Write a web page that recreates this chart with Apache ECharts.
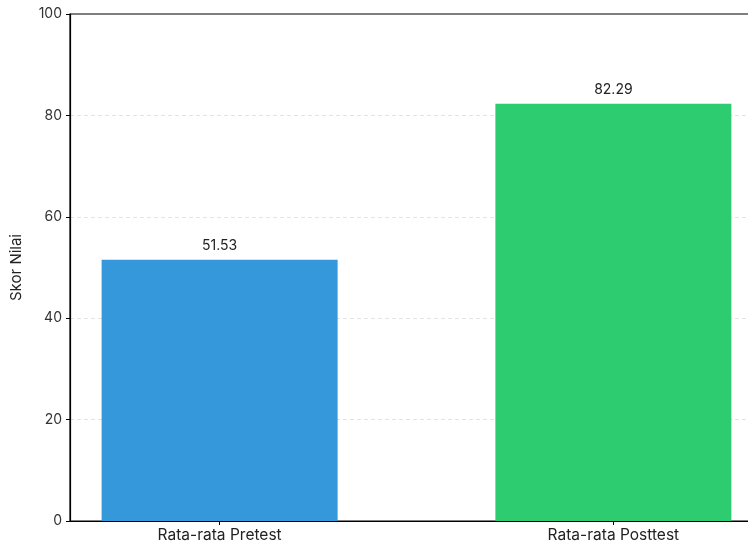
<!DOCTYPE html>
<html>
<head>
<meta charset="utf-8">
<script src="https://cdn.jsdelivr.net/npm/echarts@6/dist/echarts.min.js"></script>
<style>
  html, body { margin: 0; padding: 0; background: #fff; }
  #chart { width: 748px; height: 547px; }
</style>
</head>
<body>
<div id="chart"></div>
<script>
// Mean scores before and after the treatment
const categories = ['Rata-rata Pretest', 'Rata-rata Posttest'];
const scores = [51.53, 82.29];
const barColors = ['#3498db', '#2ecc71'];
const yTicks = [0, 20, 40, 60, 80, 100];

const chart = echarts.init(document.getElementById('chart'), null, { renderer: 'canvas' });
const font = 'Inter, "Open Sans", sans-serif';

chart.setOption({
  animation: false,
  grid: {
    left: 70, width: 693, top: 14, bottom: 26,
    outerBoundsMode: 'none', containLabel: false,
    show: true, borderColor: '#000', borderWidth: 1.2, backgroundColor: 'transparent'
  },
  xAxis: {
    type: 'value',
    min: -0.38, max: 1.38,
    splitLine: { show: false },
    axisLine: { show: true, onZero: false, lineStyle: { color: '#000', width: 1.2 } },
    axisTick: { show: true, customValues: [0, 1], length: 4, lineStyle: { color: '#000' } },
    axisLabel: {
      customValues: [0, 1],
      formatter: v => categories[Math.round(v)],
      color: '#222', fontFamily: font, fontSize: 15.5, margin: 6
    }
  },
  yAxis: {
    type: 'value',
    min: yTicks[0], max: yTicks[yTicks.length - 1], interval: 20,
    name: 'Skor Nilai',
    nameLocation: 'middle',
    nameGap: 46,
    nameTextStyle: { color: '#222', fontFamily: font, fontSize: 15 },
    axisLine: { show: true, onZero: false, lineStyle: { color: '#000', width: 1.2 } },
    axisTick: { show: true, length: 4, lineStyle: { color: '#000' } },
    axisLabel: { color: '#333', fontFamily: font, fontSize: 14, margin: 8 },
    splitLine: {
      show: true, showMinLine: false, showMaxLine: false,
      lineStyle: { color: '#e3e3e3', type: [4, 3], width: 1 }
    }
  },
  series: [{
    type: 'bar',
    barWidth: 236,
    data: scores.map((s, i) => ({ value: [i, s], itemStyle: { color: barColors[i] } })),
    label: {
      show: true, position: 'top', distance: 7,
      formatter: p => p.value[1].toFixed(2),
      color: '#222', fontFamily: font, fontSize: 14
    }
  }]
});
</script>
</body>
</html>
